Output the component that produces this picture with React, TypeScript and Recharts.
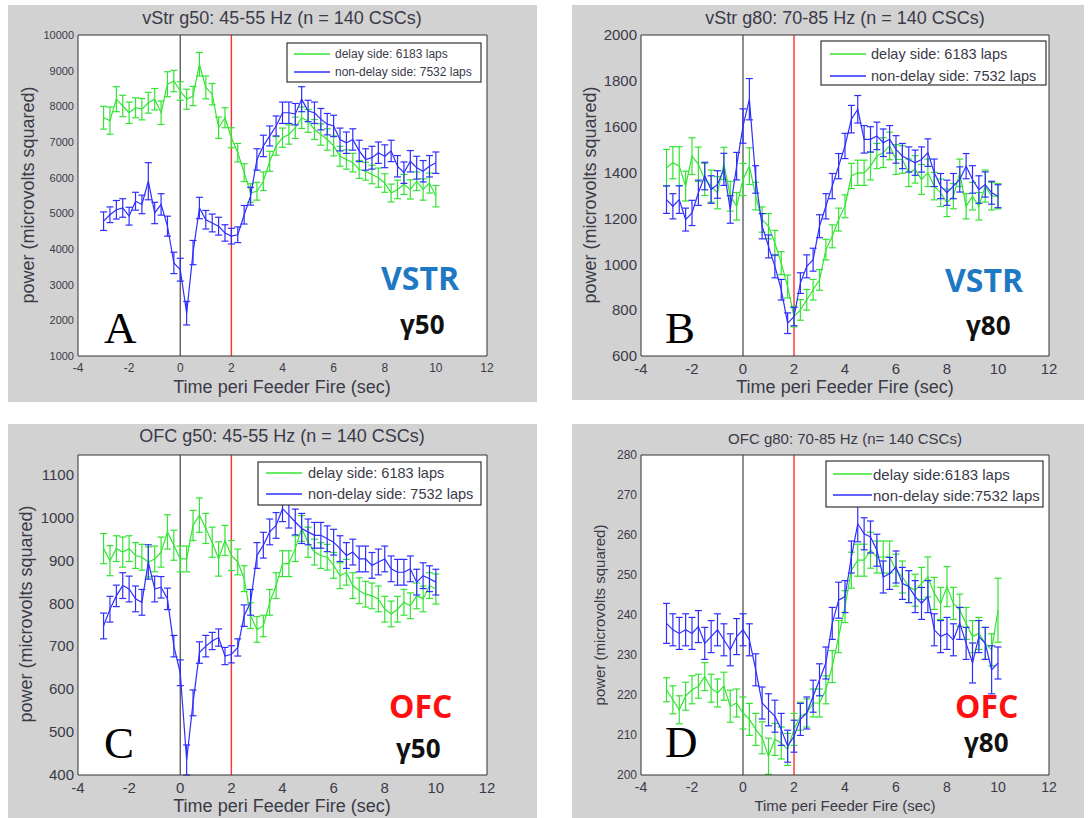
import {
    LineChart,
    Line,
    XAxis,
    YAxis,
    ErrorBar,
    ReferenceLine,
    CartesianGrid,
} from "recharts";

// time bins (sec) around feeder fire, 0.25 s apart
const TIME = [
    -3, -2.75, -2.5, -2.25, -2, -1.75, -1.5, -1.25, -1, -0.75, -0.5, -0.25, 0,
    0.25, 0.5, 0.75, 1, 1.25, 1.5, 1.75, 2, 2.25, 2.5, 2.75, 3, 3.25, 3.5, 3.75,
    4, 4.25, 4.5, 4.75, 5, 5.25, 5.5, 5.75, 6, 6.25, 6.5, 6.75, 7, 7.25, 7.5,
    7.75, 8, 8.25, 8.5, 8.75, 9, 9.25, 9.5, 9.75, 10,
];
const X_TICKS = [-4, -2, 0, 2, 4, 6, 8, 10, 12];

// vStr g50
const VSTR_G50_DELAY = [
    7680, 7600, 8200, 8010, 7820, 7960, 7920, 8100, 8200, 7820,
    8620, 8710, 8430, 8200, 8290, 9180, 8530, 8340, 7400, 7680,
    7120, 6700, 6140, 5570, 5620, 5900, 6460, 6890, 7120, 7210,
    7400, 7680, 7590, 7350, 7210, 7070, 6890, 6600, 6510, 6420,
    6230, 6180, 6090, 6000, 5850, 5570, 5670, 5810, 5670, 5900,
    5670, 5850, 5480,
];
const VSTR_G50_DELAY_ERR = [
    320, 380, 350, 300, 300, 280, 300, 290, 300, 330,
    350, 300, 260, 280, 270, 330, 320, 300, 300, 280,
    280, 260, 250, 260, 250, 260, 280, 260, 270, 270,
    300, 300, 320, 280, 300, 300, 280, 280, 270, 260,
    250, 250, 260, 270, 260, 250, 260, 280, 270, 260,
    300, 280, 300,
];
const VSTR_G50_NONDELAY = [
    4780, 4960, 5100, 5150, 4920, 5340, 5250, 5900, 5010, 5250,
    4640, 3610, 3420, 2200, 3900, 5150, 4820, 4730, 4640, 4450,
    4360, 4400, 4960, 5480, 6510, 6890, 7170, 7450, 7820, 7820,
    7780, 8200, 7870, 7820, 7640, 7500, 7450, 7070, 6980, 7070,
    6750, 6510, 6560, 6700, 6600, 6750, 6320, 6140, 6460, 6280,
    6180, 6320, 6420,
];
const VSTR_G50_NONDELAY_ERR = [
    260, 220, 260, 260, 250, 250, 260, 520, 300, 300,
    280, 300, 320, 330, 340, 300, 260, 250, 250, 230,
    220, 220, 260, 250, 300, 300, 280, 280, 300, 300,
    300, 350, 300, 300, 300, 300, 300, 320, 300, 300,
    300, 300, 320, 300, 320, 300, 300, 300, 300, 320,
    300, 300, 300,
];

// vStr g80
const VSTR_G80_DELAY = [
    1421, 1443, 1428, 1341, 1472, 1436, 1370, 1341, 1312, 1440,
    1297, 1253, 1370, 1428, 1297, 1195, 1166, 1093, 1005, 903,
    772, 801, 845, 889, 932, 1064, 1122, 1195, 1253, 1385,
    1399, 1399, 1428, 1472, 1487, 1516, 1457, 1457, 1399, 1414,
    1370, 1399, 1341, 1312, 1268, 1297, 1399, 1253, 1297, 1253,
    1341, 1297, 1297,
];
const VSTR_G80_DELAY_ERR = [
    80, 70, 85, 65, 80, 75, 70, 70, 70, 70,
    65, 60, 70, 80, 60, 55, 55, 55, 50, 50,
    45, 45, 45, 45, 45, 45, 50, 50, 50, 55,
    55, 55, 60, 55, 65, 60, 65, 60, 60, 60,
    65, 60, 60, 60, 60, 55, 60, 55, 60, 60,
    70, 60, 55,
];
const VSTR_G80_NONDELAY = [
    1282, 1253, 1282, 1195, 1224, 1312, 1385, 1326, 1348, 1414,
    1239, 1428, 1603, 1720, 1370, 1166, 1078, 991, 889, 743,
    772, 918, 991, 1020, 1166, 1253, 1341, 1428, 1516, 1633,
    1676, 1545, 1545, 1560, 1530, 1545, 1501, 1472, 1457, 1443,
    1457, 1487, 1399, 1341, 1312, 1341, 1370, 1428, 1370, 1326,
    1348, 1312, 1297,
];
const VSTR_G80_NONDELAY_ERR = [
    60, 55, 60, 50, 55, 55, 60, 60, 60, 70,
    60, 60, 75, 90, 60, 55, 50, 50, 45, 45,
    40, 45, 50, 50, 50, 55, 55, 55, 55, 60,
    60, 60, 55, 60, 60, 60, 60, 55, 55, 55,
    55, 60, 60, 55, 55, 55, 55, 55, 60, 60,
    55, 50, 50,
];

// OFC g50
const OFC_G50_DELAY = [
    927, 899, 927, 919, 927, 911, 907, 896, 903, 919,
    966, 935, 903, 903, 981, 1005, 974, 942, 903, 946,
    911, 896, 857, 771, 739, 747, 802, 841, 892, 892,
    927, 974, 942, 919, 911, 907, 888, 864, 872, 841,
    829, 821, 817, 810, 786, 775, 786, 802, 794, 817,
    810, 841, 833,
];
const OFC_G50_DELAY_ERR = [
    35, 35, 30, 35, 30, 30, 30, 35, 30, 35,
    40, 35, 30, 30, 35, 40, 35, 35, 40, 35,
    35, 30, 30, 30, 30, 25, 30, 30, 30, 30,
    30, 30, 35, 30, 30, 30, 30, 30, 30, 30,
    30, 30, 30, 30, 30, 30, 30, 30, 30, 30,
    30, 30, 35,
];
const OFC_G50_NONDELAY = [
    747, 786, 817, 841, 833, 810, 802, 896, 833, 837,
    810, 700, 638, 435, 568, 685, 700, 712, 720, 677,
    681, 697, 771, 802, 911, 935, 966, 981, 1020, 1005,
    989, 974, 966, 958, 958, 950, 942, 927, 911, 919,
    903, 903, 888, 896, 903, 880, 872, 872, 880, 849,
    864, 857, 849,
];
const OFC_G50_NONDELAY_ERR = [
    30, 30, 25, 30, 30, 30, 30, 40, 30, 25,
    25, 25, 30, 35, 30, 25, 25, 20, 20, 20,
    20, 20, 25, 30, 30, 30, 30, 30, 30, 30,
    30, 35, 30, 30, 30, 30, 30, 30, 30, 30,
    30, 30, 30, 30, 30, 30, 30, 30, 30, 30,
    30, 30, 30,
];

// OFC g80
const OFC_G80_DELAY = [
    221.3, 218.8, 216.3, 219.7, 221.3, 222.2, 224.6, 221.7, 220.5, 222.2,
    217.2, 218.0, 215.5, 213.9, 211.4, 209.3, 204.7, 208.9, 208.0, 206.4,
    211.4, 214.7, 215.5, 218.0, 218.0, 221.3, 227.1, 234.6, 242.1, 251.2,
    253.7, 253.7, 256.2, 254.5, 254.5, 254.5, 251.2, 249.5, 247.1, 246.2,
    247.9, 249.5, 245.4, 242.9, 247.1, 242.9, 241.2, 237.9, 234.6, 235.4,
    232.9, 231.3, 241.2,
];
const OFC_G80_DELAY_ERR = [
    3.0, 3.5, 3.5, 3.5, 3.5, 3.0, 3.5, 3.5, 3.5, 3.5,
    4.0, 3.5, 4.0, 4.0, 4.0, 4.0, 4.5, 4.0, 4.0, 4.0,
    4.0, 3.5, 3.5, 3.5, 3.5, 3.5, 4.0, 4.0, 4.0, 4.5,
    4.0, 4.0, 4.5, 4.0, 4.0, 4.0, 4.0, 4.0, 4.0, 4.0,
    4.0, 5.0, 4.0, 4.0, 5.0, 4.0, 4.0, 4.0, 4.0, 4.0,
    4.0, 4.0, 8.0,
];
const OFC_G80_NONDELAY = [
    237.9, 236.3, 235.4, 236.3, 235.4, 237.1, 232.9, 234.6, 236.3, 233.8,
    231.3, 234.6, 236.3, 233.8, 226.3, 218.0, 216.3, 214.7, 211.4, 207.2,
    209.7, 213.9, 215.5, 219.7, 223.8, 228.0, 237.9, 243.7, 244.6, 254.5,
    262.8, 260.3, 259.5, 256.2, 249.5, 250.4, 252.0, 247.9, 247.1, 244.6,
    242.9, 244.6, 236.3, 234.6, 235.4, 233.8, 237.9, 232.9, 228.0, 234.6,
    232.9, 226.3, 228.0,
];
const OFC_G80_NONDELAY_ERR = [
    5.0, 4.0, 4.0, 4.0, 4.0, 4.0, 4.0, 4.0, 4.0, 4.0,
    4.0, 4.5, 4.0, 4.0, 4.0, 4.0, 4.0, 4.0, 4.0, 4.0,
    4.0, 4.0, 4.0, 4.0, 4.0, 4.0, 4.0, 4.5, 4.0, 4.0,
    4.5, 4.0, 4.0, 4.0, 4.0, 4.0, 4.0, 4.0, 4.0, 4.0,
    4.0, 4.0, 4.0, 4.0, 4.0, 4.0, 4.0, 4.0, 5.0, 4.0,
    4.0, 6.0, 4.0,
];

const GREEN = "#33e433";
const BLUE = "#2e2eff";
const FRAME = "#333";
const TEXT = "#3a3a48";
const PANEL_BG = "#d2d2d2";

type PanelProps = {
    left: number;
    top: number;
    width: number;
    height: number;
    marginTop: number;
    marginRight: number;
    yWidth: number;
    xHeight: number;
    yDomain: number[];
    yTicks: number[];
    delay: number[];
    delayErr: number[];
    nondelay: number[];
    nondelayErr: number[];
    yFont: number;
    xFont: number;
};

function Panel(p: PanelProps) {
    const rows = TIME.map((t, i) => ({
        t,
        d: p.delay[i],
        de: p.delayErr[i],
        n: p.nondelay[i],
        ne: p.nondelayErr[i],
    }));

    return (
        <div
            style={{
                position: "absolute",
                left: p.left,
                top: p.top,
                width: p.width,
                height: p.height,
                background: PANEL_BG,
            }}
        >
            <LineChart
                width={p.width}
                height={p.height}
                data={rows}
                margin={{ top: p.marginTop, right: p.marginRight, left: 0, bottom: 0 }}
            >
                <CartesianGrid fill="#fff" horizontal={false} vertical={false} />

                {/* labelled axes */}
                <XAxis
                    dataKey="t"
                    type="number"
                    domain={[-4, 12]}
                    ticks={X_TICKS}
                    interval={0}
                    height={p.xHeight}
                    tickLine={false}
                    tickSize={0}
                    tickMargin={7}
                    axisLine={{ stroke: FRAME }}
                    tick={{ fontSize: p.xFont, fill: TEXT, fontFamily: "Liberation Sans" }}
                />
                <YAxis
                    type="number"
                    domain={p.yDomain}
                    ticks={p.yTicks}
                    interval={0}
                    allowDataOverflow
                    width={p.yWidth}
                    tickLine={false}
                    tickSize={0}
                    tickMargin={4}
                    axisLine={{ stroke: FRAME }}
                    tick={{ fontSize: p.yFont, fill: TEXT, fontFamily: "Liberation Sans" }}
                />

                {/* box with inward ticks on all four sides */}
                <XAxis
                    xAxisId="bm"
                    type="number"
                    dataKey="t"
                    domain={[-4, 12]}
                    ticks={X_TICKS}
                    mirror
                    height={1}
                    tick={false}
                    axisLine={false}
                    tickSize={5}
                    tickLine={{ stroke: FRAME }}
                />
                <XAxis
                    xAxisId="tm"
                    orientation="top"
                    type="number"
                    dataKey="t"
                    domain={[-4, 12]}
                    ticks={X_TICKS}
                    mirror
                    height={1}
                    tick={false}
                    axisLine={{ stroke: FRAME }}
                    tickSize={5}
                    tickLine={{ stroke: FRAME }}
                />
                <YAxis
                    yAxisId="lm"
                    type="number"
                    domain={p.yDomain}
                    ticks={p.yTicks}
                    allowDataOverflow
                    mirror
                    width={1}
                    tick={false}
                    axisLine={false}
                    tickSize={5}
                    tickLine={{ stroke: FRAME }}
                />
                <YAxis
                    yAxisId="rm"
                    orientation="right"
                    type="number"
                    domain={p.yDomain}
                    ticks={p.yTicks}
                    allowDataOverflow
                    mirror
                    width={1}
                    tick={false}
                    axisLine={{ stroke: FRAME }}
                    tickSize={5}
                    tickLine={{ stroke: FRAME }}
                />

                <ReferenceLine x={0} stroke="#444" strokeWidth={1.2} />
                <ReferenceLine x={2} stroke="#ff3030" strokeWidth={1.4} />

                <Line
                    dataKey="d"
                    stroke={GREEN}
                    strokeWidth={1.2}
                    dot={false}
                    isAnimationActive={false}
                >
                    <ErrorBar dataKey="de" width={3.5} stroke={GREEN} strokeWidth={1.2} direction="y" />
                </Line>
                <Line
                    dataKey="n"
                    stroke={BLUE}
                    strokeWidth={1.2}
                    dot={false}
                    isAnimationActive={false}
                >
                    <ErrorBar dataKey="ne" width={3.5} stroke={BLUE} strokeWidth={1.2} direction="y" />
                </Line>
            </LineChart>
        </div>
    );
}

type LegendProps = {
    x: number;
    y: number;
    w: number;
    h: number;
    lineX: number;
    lineW: number;
    textX: number;
    row1: number;
    row2: number;
    size: number;
    labels: string[];
};

function LegendBox(l: LegendProps) {
    return (
        <g>
            <rect x={l.x} y={l.y} width={l.w} height={l.h} fill="#fff" stroke={FRAME} strokeWidth={1.2} />
            <line x1={l.lineX} x2={l.lineX + l.lineW} y1={l.row1} y2={l.row1} stroke={GREEN} strokeWidth={1.4} />
            <line x1={l.lineX} x2={l.lineX + l.lineW} y1={l.row2} y2={l.row2} stroke={BLUE} strokeWidth={1.4} />
            <text x={l.textX} y={l.row1} fontSize={l.size} fill={TEXT} dominantBaseline="central">
                {l.labels[0]}
            </text>
            <text x={l.textX} y={l.row2} fontSize={l.size} fill={TEXT} dominantBaseline="central">
                {l.labels[1]}
            </text>
        </g>
    );
}

const LEGEND_LABELS = ["delay side: 6183 laps", "non-delay side: 7532 laps"];
const LEGEND_LABELS_D = ["delay side:6183 laps", "non-delay side:7532 laps"];
const Y_LABEL = "power (microvolts squared)";
const X_LABEL = "Time peri Feeder Fire (sec)";

export default function App() {
    return (
        <div
            style={{
                position: "absolute",
                left: 0,
                top: 0,
                width: 1090,
                height: 818,
                background: "#fff",
                overflow: "hidden",
                fontFamily: "Liberation Sans, Arial, sans-serif",
            }}
        >
            <Panel
                left={8}
                top={5}
                width={529}
                height={397}
                marginTop={30}
                marginRight={50}
                yWidth={70}
                xHeight={46}
                yDomain={[1000, 10000]}
                yTicks={[1000, 2000, 3000, 4000, 5000, 6000, 7000, 8000, 9000, 10000]}
                delay={VSTR_G50_DELAY}
                delayErr={VSTR_G50_DELAY_ERR}
                nondelay={VSTR_G50_NONDELAY}
                nondelayErr={VSTR_G50_NONDELAY_ERR}
                yFont={11}
                xFont={12}
            />
            <Panel
                left={572}
                top={5}
                width={512}
                height={395}
                marginTop={30}
                marginRight={35}
                yWidth={69}
                xHeight={44}
                yDomain={[600, 2000]}
                yTicks={[600, 800, 1000, 1200, 1400, 1600, 1800, 2000]}
                delay={VSTR_G80_DELAY}
                delayErr={VSTR_G80_DELAY_ERR}
                nondelay={VSTR_G80_NONDELAY}
                nondelayErr={VSTR_G80_NONDELAY_ERR}
                yFont={15}
                xFont={15}
            />
            <Panel
                left={8}
                top={424}
                width={529}
                height={394}
                marginTop={31}
                marginRight={50}
                yWidth={70}
                xHeight={43}
                yDomain={[400, 1145]}
                yTicks={[400, 500, 600, 700, 800, 900, 1000, 1100]}
                delay={OFC_G50_DELAY}
                delayErr={OFC_G50_DELAY_ERR}
                nondelay={OFC_G50_NONDELAY}
                nondelayErr={OFC_G50_NONDELAY_ERR}
                yFont={15}
                xFont={15}
            />
            <Panel
                left={572}
                top={424}
                width={512}
                height={394}
                marginTop={31}
                marginRight={35}
                yWidth={69}
                xHeight={43}
                yDomain={[200, 280]}
                yTicks={[200, 210, 220, 230, 240, 250, 260, 270, 280]}
                delay={OFC_G80_DELAY}
                delayErr={OFC_G80_DELAY_ERR}
                nondelay={OFC_G80_NONDELAY}
                nondelayErr={OFC_G80_NONDELAY_ERR}
                yFont={12}
                xFont={14}
            />

            {/* titles, axis labels, legends and panel tags */}
            <svg
                width={1090}
                height={818}
                style={{ position: "absolute", left: 0, top: 0, pointerEvents: "none" }}
                fontFamily="Liberation Sans, Arial, sans-serif"
            >
                <g fill={TEXT} textAnchor="middle">
                    <text x={282} y={24} fontSize={18}>vStr g50: 45-55 Hz (n = 140 CSCs)</text>
                    <text x={845} y={24} fontSize={18}>vStr g80: 70-85 Hz (n = 140 CSCs)</text>
                    <text x={282} y={442} fontSize={18}>OFC g50: 45-55 Hz (n = 140 CSCs)</text>
                    <text x={845} y={444} fontSize={15}>OFC g80: 70-85 Hz (n= 140 CSCs)</text>

                    <text x={282} y={393} fontSize={18}>{X_LABEL}</text>
                    <text x={845} y={393} fontSize={18}>{X_LABEL}</text>
                    <text x={282} y={812} fontSize={18}>{X_LABEL}</text>
                    <text x={845} y={811} fontSize={15}>{X_LABEL}</text>

                    <text x={28} y={195} fontSize={18} dominantBaseline="central" transform="rotate(-90 28 195)">{Y_LABEL}</text>
                    <text x={590} y={195} fontSize={18} dominantBaseline="central" transform="rotate(-90 590 195)">{Y_LABEL}</text>
                    <text x={26} y={614} fontSize={18} dominantBaseline="central" transform="rotate(-90 26 614)">{Y_LABEL}</text>
                    <text x={599} y={615} fontSize={15} dominantBaseline="central" transform="rotate(-90 599 615)">{Y_LABEL}</text>
                </g>

                <LegendBox x={287} y={43} w={194} h={39} lineX={294} lineW={36} textX={335} row1={54} row2={72} size={12} labels={LEGEND_LABELS} />
                <LegendBox x={821} y={41} w={225} h={44} lineX={830} lineW={36} textX={871} row1={54} row2={76} size={14.5} labels={LEGEND_LABELS} />
                <LegendBox x={258} y={462} w={223} h={43} lineX={266} lineW={36} textX={308} row1={473} row2={494} size={14.5} labels={LEGEND_LABELS} />
                <LegendBox x={826} y={461} w={217} h={46} lineX={833} lineW={39} textX={873} row1={474} row2={495} size={15} labels={LEGEND_LABELS_D} />

                <g fontFamily="Open Sans, sans-serif" fontWeight={700}>
                    <text x={381} y={290} fontSize={32} fill="#1f78c4">VSTR</text>
                    <text x={400} y={334} fontSize={26} fill="#111">γ50</text>
                    <text x={945} y={292} fontSize={32} fill="#1f78c4">VSTR</text>
                    <text x={966} y={335} fontSize={26} fill="#111">γ80</text>
                    <text x={389} y={718} fontSize={32} fill="#ff1010">OFC</text>
                    <text x={396} y={758} fontSize={26} fill="#111">γ50</text>
                    <text x={955} y={718} fontSize={32} fill="#ff1010">OFC</text>
                    <text x={964} y={752} fontSize={26} fill="#111">γ80</text>
                </g>
                <g fontFamily="Liberation Serif, serif" fontSize={45} fill="#000">
                    <text x={104} y={343}>A</text>
                    <text x={665} y={343}>B</text>
                    <text x={104} y={758}>C</text>
                    <text x={665} y={757}>D</text>
                </g>
            </svg>
        </div>
    );
}
